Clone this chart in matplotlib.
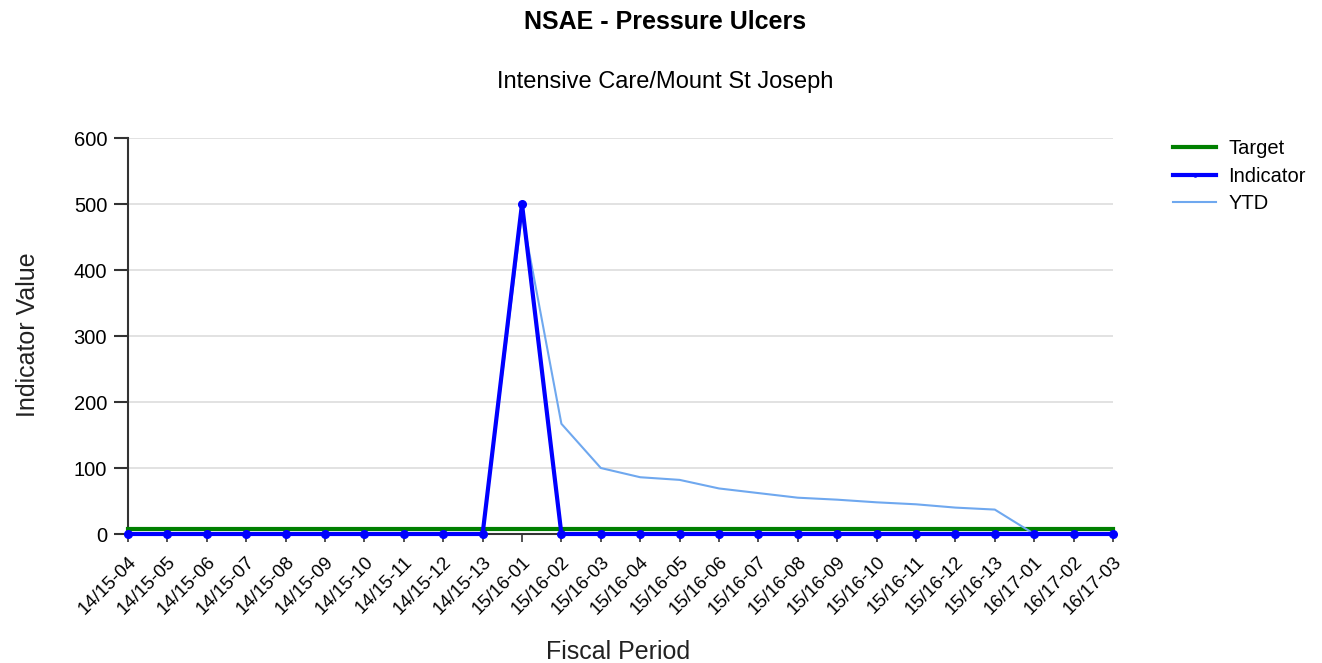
import matplotlib.pyplot as plt
import numpy as np

plt.rcParams['font.family'] = ['Liberation Sans', 'DejaVu Sans']

periods = (
    [f"14/15-{m:02d}" for m in range(4, 14)]
    + [f"15/16-{m:02d}" for m in range(1, 14)]
    + [f"16/17-{m:02d}" for m in range(1, 4)]
)
target = [8] * 26
indicator = [0] * 10 + [500] + [0] * 15
ytd = [0] * 10 + [485, 167, 100, 86, 82, 69, 62, 55, 52, 48, 45, 40, 37, 0, 0, 0]

x = np.arange(len(periods))

fig = plt.figure(figsize=(13.22, 6.63), dpi=100)
ax = fig.add_axes([128 / 1322, 1 - 534 / 663, (1113 - 128) / 1322, (534 - 138) / 663])

ax.plot(x, target, color="#008000", lw=3, label="Target", zorder=3, clip_on=False)
ax.plot(x, ytd, color="#6fa8ef", lw=1.5, label="YTD", zorder=4, clip_on=False)
ax.plot(x, indicator, color="#0000ff", lw=3, marker="o", ms=5.5, label="Indicator",
        zorder=5, clip_on=False)

ax.set_xlim(0, len(periods) - 1)
ax.set_ylim(0, 600)
ax.set_yticks(range(0, 601, 100))
ax.set_xticks(x)
ax.set_xticklabels(periods, rotation=45, ha="right", rotation_mode="anchor", fontsize=13.5)
ax.tick_params(axis="y", labelsize=14.5, length=10, width=1.5, color="#333333", pad=5)
ax.tick_params(axis="x", length=6, width=1.2, color="#333333", pad=8)
ax.grid(axis="y", color="#dddddd", lw=1.2)
ax.set_axisbelow(True)
for side in ("top", "right"):
    ax.spines[side].set_visible(False)
for side in ("left", "bottom"):
    ax.spines[side].set_color("#333333")
    ax.spines[side].set_linewidth(1.5)

fig.text(28 / 1322, 1 - 335 / 663, "Indicator Value", rotation=90, ha="center", va="center",
         fontsize=18, color="#222222")
fig.text(618 / 1322, 1 - 652 / 663, "Fiscal Period", ha="center", va="center",
         fontsize=18, color="#222222")
fig.text(665 / 1322, 1 - 22 / 663, "NSAE - Pressure Ulcers", ha="center", va="center",
         fontsize=18, fontweight="bold")
fig.text(665 / 1322, 1 - 82 / 663, "Intensive Care/Mount St Joseph", ha="center", va="center",
         fontsize=17)

handles, labels = ax.get_legend_handles_labels()
order = [0, 2, 1]
fig.legend([handles[i] for i in order], [labels[i] for i in order],
           loc="upper left", bbox_to_anchor=(1155 / 1322, 1 - 121 / 663), frameon=False,
           fontsize=14.5, handlelength=2.15, handletextpad=0.6, labelspacing=0.42,
           markerscale=0.4)

fig.savefig("out.png", dpi=100)
